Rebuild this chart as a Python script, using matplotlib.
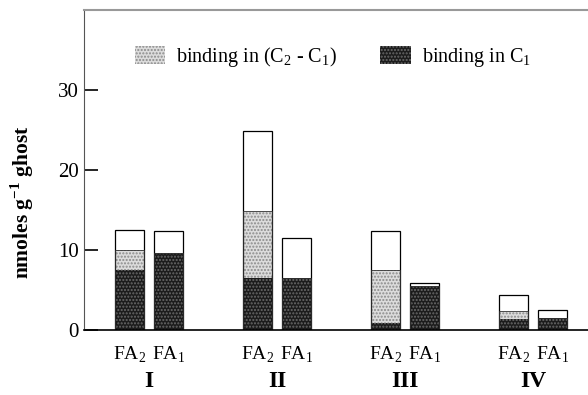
import matplotlib
matplotlib.use("Agg")
import matplotlib.pyplot as plt
import numpy as np
from matplotlib.patches import Patch

plt.rcParams['font.family'] = ['Liberation Serif', 'DejaVu Serif']
plt.rcParams['mathtext.fontset'] = 'custom'
plt.rcParams['mathtext.rm'] = 'Liberation Serif'
plt.rcParams['mathtext.bf'] = 'Liberation Serif:bold'

groups = ['I', 'II', 'III', 'IV']
# FA2 bars
fa2_c1 = [7.5, 6.5, 0.9, 1.3]
fa2_c2c1 = [2.5, 8.3, 6.6, 1.0]
fa2_total = [12.5, 24.9, 12.3, 4.4]
# FA1 bars
fa1_c1 = [9.6, 6.5, 5.5, 1.5]
fa1_c2c1 = [0.0, 0.0, 0.0, 0.0]
fa1_total = [12.3, 11.5, 5.8, 2.5]

dark = '#1c1c1c'
light = '#dcdcdc'

fig = plt.figure(figsize=(5.88, 3.95), dpi=100)
ax = fig.add_axes([0.143, 0.165, 0.857, 0.81])

x = np.arange(1, len(groups) + 1)
w = 0.227
off = 0.15


def stack(pos, c1, c2c1, total):
    c1 = np.array(c1)
    c2c1 = np.array(c2c1)
    total = np.array(total)
    ax.bar(pos, c1, w, color=dark, hatch='.....', edgecolor='#6a6a6a', lw=0)
    ax.bar(pos, c2c1, w, bottom=c1, color=light, hatch='.....', edgecolor='#8a8a8a', lw=0)
    ax.bar(pos, total, w, fill=False, edgecolor='black', lw=0.9)
    # segment boundaries
    ax.bar(pos, c1 + c2c1, w, fill=False, edgecolor='#333333', lw=0.6)


stack(x - off, fa2_c1, fa2_c2c1, fa2_total)
stack(x + off, fa1_c1, fa1_c2c1, fa1_total)

ax.set_xlim(0.492, 4.43)
ax.set_ylim(0, 40)
ax.set_yticks([0, 10, 20, 30])
ax.tick_params(axis='y', direction='in', length=10, width=1.2, labelsize=15, pad=4)
ax.set_xticks([])

for xi in x:
    ax.text(xi - off, -1.9, r'FA$_2$', ha='center', va='top', fontsize=14)
    ax.text(xi + off, -1.9, r'FA$_1$', ha='center', va='top', fontsize=14)
for xi, g in zip(x, groups):
    ax.text(xi, -5.2, g, ha='center', va='top', fontsize=17, fontweight='bold')

ax.spines['right'].set_visible(False)
ax.spines['top'].set_color('#999999')
ax.spines['top'].set_linewidth(1.5)
ax.spines['left'].set_linewidth(0.8)
ax.spines['left'].set_color('#555555')
ax.spines['bottom'].set_linewidth(1.2)

ax.set_ylabel(r'nmoles g$^{\mathbf{-1}}$ ghost', fontsize=15.5, fontweight='bold')
ax.yaxis.set_label_coords(-0.096, 0.40)

handles = [Patch(facecolor=light, hatch='.....', edgecolor='#8a8a8a', lw=0),
           Patch(facecolor=dark, hatch='.....', edgecolor='#6a6a6a', lw=0)]
labels = [r'binding in (C$_2$ - C$_1$)', r'binding in C$_1$']
ax.legend(handles, labels, loc='upper left', bbox_to_anchor=(0.101, 0.89), ncol=2,
          frameon=False, fontsize=14.5, handlelength=1.5, handleheight=1.0,
          columnspacing=2.15, handletextpad=0.55, borderpad=0, borderaxespad=0)

fig.savefig('out.png', dpi=100)
